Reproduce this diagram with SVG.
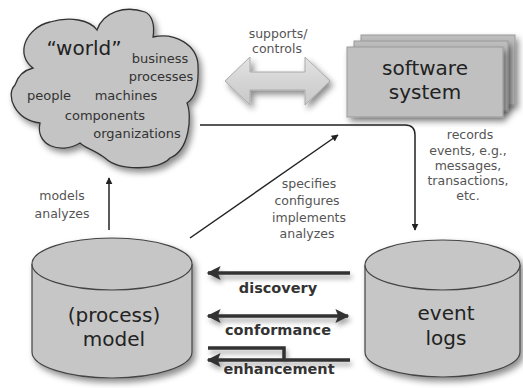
<svg xmlns="http://www.w3.org/2000/svg" width="523" height="388" viewBox="0 0 523 388">
<defs>
<filter id="sh" x="-20%" y="-20%" width="150%" height="150%">
<feDropShadow dx="3" dy="4" stdDeviation="3" flood-color="#000" flood-opacity="0.45"/>
</filter>
<filter id="sh2" x="-20%" y="-50%" width="150%" height="250%">
<feDropShadow dx="2" dy="4" stdDeviation="2.5" flood-color="#000" flood-opacity="0.35"/>
</filter>
<linearGradient id="ag" x1="0" y1="0" x2="0" y2="1">
<stop offset="0" stop-color="#e2e2e2"/>
<stop offset="1" stop-color="#c8c8c8"/>
</linearGradient>
<marker id="ah" viewBox="0 0 10 10" refX="9" refY="5" markerWidth="7" markerHeight="7" orient="auto-start-reverse" markerUnits="userSpaceOnUse">
<path d="M0,0 L10,5 L0,10 Z" fill="#222"/>
</marker>
<marker id="big" viewBox="0 0 10 10" refX="9" refY="5" markerWidth="4.5" markerHeight="4" orient="auto-start-reverse">
<path d="M0,0 L10,5 L0,10 L2,5 Z" fill="#333"/>
</marker>
</defs>
<style>
.t{font-family:"DejaVu Sans",Verdana,sans-serif;text-anchor:middle}
.in{font-size:13px;fill:#333}
.lb{font-size:12.5px;fill:#555}
.big{font-size:20px;fill:#222}
.bd{font-size:14.5px;font-weight:bold;fill:#333}
.shape{fill:#c4c4c4;stroke:#333;stroke-width:1.3}
.cyl{fill:#c6c6c6;stroke:#444;stroke-width:1.2}
.thin{fill:none;stroke:#222;stroke-width:1.5}
.thick{fill:none;stroke:#333;stroke-width:3.5}
</style>

<g id="world">
<path class="shape" filter="url(#sh)" d="M33,68 C15,55 25,28 50,22 C70,16 90,20 97,30 C103,12 125,5 145,12 C152,15 155,25 153,37 C175,32 197,45 198,65 C199,85 195,98 187,103 C192,115 190,150 170,158 C160,170 120,172 105,158 C95,150 85,148 80,143 C60,155 35,145 40,123 C15,120 5,95 15,85 C18,75 25,70 33,68 Z"/>
<text class="t big" x="84" y="55">“world”</text>
<text class="t in" x="160" y="63">business</text>
<text class="t in" x="161" y="81">processes</text>
<text class="t in" x="49" y="100">people</text>
<text class="t in" x="126" y="100">machines</text>
<text class="t in" x="105" y="120">components</text>
<text class="t in" x="137" y="138">organizations</text>
</g>

<g id="supports">
<path filter="url(#sh)" fill="url(#ag)" stroke="#aaa" stroke-width="1" d="M225,81 L250,57 L250,72 L305,72 L305,57 L330,81 L305,105 L305,90 L250,90 L250,105 Z"/>
<text class="t lb" x="278" y="38">supports/</text>
<text class="t lb" x="277" y="53">controls</text>
</g>

<g id="software">
<rect x="361" y="35" width="154" height="70" fill="#bdbdbd" stroke="#999" filter="url(#sh)"/>
<rect x="354" y="41" width="154" height="70" fill="#bdbdbd" stroke="#999" filter="url(#sh)"/>
<rect x="347" y="47" width="156" height="70" fill="#c0c0c0" stroke="#999" filter="url(#sh)"/>
<text class="t big" x="425" y="75">software</text>
<text class="t big" x="425" y="99">system</text>
</g>

<g id="model">
<path class="cyl" filter="url(#sh)" d="M32,264 A80,26 0 0 1 192,264 L192,352 A80,26 0 0 1 32,352 Z"/>
<path class="cyl" d="M32,264 A80,26 0 0 0 192,264"/>
<text class="t big" x="114" y="322">(process)</text>
<text class="t big" x="114" y="346">model</text>
</g>

<g id="logs">
<path class="cyl" filter="url(#sh)" d="M365,265 A77.5,25 0 0 1 520,265 L520,352 A77.5,25 0 0 1 365,352 Z"/>
<path class="cyl" d="M365,265 A77.5,25 0 0 0 520,265"/>
<text class="t big" x="446" y="320">event</text>
<text class="t big" x="446" y="345">logs</text>
</g>

<g id="connectors">
<path class="thin" d="M200,125 L405,125 Q415,125 415,135 L415,230" marker-end="url(#ah)"/>
<path class="thin" d="M109,230 L109,178" marker-end="url(#ah)"/>
<path class="thin" d="M190,238 L338,135" marker-end="url(#ah)"/>
<g filter="url(#sh2)">
<path class="thick" d="M350,273 L208,273" marker-end="url(#big)"/>
<path class="thick" d="M208,316 L348,316" marker-start="url(#big)" marker-end="url(#big)"/>
<path class="thick" d="M208,348 L284,348 L284,360"/>
<path class="thick" d="M350,360 L208,360" marker-end="url(#big)"/>
</g>
</g>

<g id="labels">
<text class="t lb" x="470" y="139" font-size="12">records</text>
<text class="t lb" x="468" y="155">events, e.g.,</text>
<text class="t lb" x="468" y="170">messages,</text>
<text class="t lb" x="468" y="185">transactions,</text>
<text class="t lb" x="468" y="200">etc.</text>
<text class="t lb" x="309" y="188">specifies</text>
<text class="t lb" x="307" y="205">configures</text>
<text class="t lb" x="309" y="222">implements</text>
<text class="t lb" x="307" y="238">analyzes</text>
<text class="t lb" x="62" y="200">models</text>
<text class="t lb" x="62" y="218">analyzes</text>
<text class="t bd" x="278" y="293">discovery</text>
<text class="t bd" x="278" y="335">conformance</text>
<text class="t bd" x="279" y="374">enhancement</text>
</g>
</svg>
